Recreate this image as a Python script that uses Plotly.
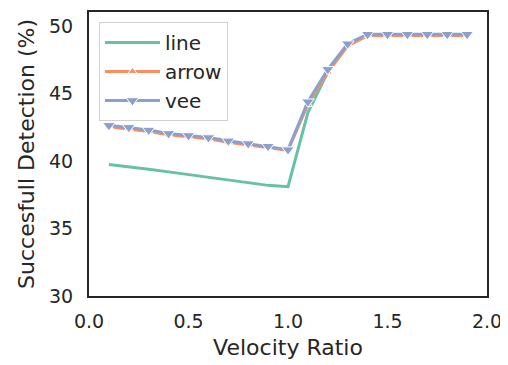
import plotly.graph_objects as go

x = [0.1, 0.2, 0.3, 0.4, 0.5, 0.6, 0.7, 0.8, 0.9, 1.0,
     1.1, 1.2, 1.3, 1.4, 1.5, 1.6, 1.7, 1.8, 1.9]
line_vals = [39.75, 39.6, 39.4, 39.2, 39.0, 38.8, 38.6, 38.4, 38.2, 38.1,
             43.6, 46.6, 48.6, 49.3, 49.3, 49.3, 49.3, 49.3, 49.3]
arrow_vals = [42.55, 42.4, 42.2, 41.95, 41.8, 41.65, 41.4, 41.2, 41.0, 40.8,
              44.2, 46.6, 48.55, 49.3, 49.3, 49.3, 49.3, 49.3, 49.3]
vee_vals = [42.65, 42.5, 42.3, 42.05, 41.9, 41.75, 41.5, 41.3, 41.1, 40.85,
            44.4, 46.8, 48.7, 49.4, 49.4, 49.4, 49.4, 49.4, 49.4]

GREEN = "#66c2a5"
ORANGE = "#fc8d62"
BLUE = "#8da0cb"
FONT = "DejaVu Sans"
TXT = "#262626"

fig = go.Figure()
fig.add_trace(go.Scatter(x=x, y=line_vals, name="line", mode="lines",
                         line=dict(color=GREEN, width=3)))
fig.add_trace(go.Scatter(x=x, y=arrow_vals, name="arrow", mode="lines+markers",
                         line=dict(color=ORANGE, width=3),
                         marker=dict(symbol="triangle-up", size=8, color=ORANGE,
                                     line=dict(color="white", width=1))))
fig.add_trace(go.Scatter(x=x, y=vee_vals, name="vee", mode="lines+markers",
                         line=dict(color=BLUE, width=3),
                         marker=dict(symbol="triangle-down", size=11, color=BLUE,
                                     line=dict(color="white", width=1))))

fig.update_layout(
    width=500, height=357,
    margin=dict(l=81, r=21, t=2, b=69),
    paper_bgcolor="white", plot_bgcolor="white",
    font=dict(family=FONT, size=19, color=TXT),
    showlegend=True,
    legend=dict(x=0.025, y=0.965, xanchor="left", yanchor="top",
                bgcolor="rgba(255,255,255,0.8)", bordercolor="#d0d0d0", borderwidth=1,
                itemwidth=55, tracegroupgap=0,
                font=dict(family=FONT, size=20, color=TXT)),
    xaxis=dict(range=[0, 2], tickvals=[0, 0.5, 1.0, 1.5, 2.0],
               ticktext=["0.0", "0.5", "1.0", "1.5", "2.0"],
               showgrid=False, zeroline=False, showline=True, mirror=True,
               linecolor=TXT, linewidth=2, ticks="outside", ticklen=7,
               tickcolor="rgba(0,0,0,0)",
               tickfont=dict(family=FONT, size=19, color=TXT),
               title=dict(text="Velocity Ratio", font=dict(family=FONT, size=22, color=TXT), standoff=9)),
    yaxis=dict(range=[30, 51.05], tickvals=[30, 35, 40, 45, 50],
               showgrid=False, zeroline=False, showline=True, mirror=True,
               linecolor=TXT, linewidth=2, ticks="outside", ticklen=10,
               tickcolor="rgba(0,0,0,0)",
               tickfont=dict(family=FONT, size=19, color=TXT),
               title=dict(text="Succesfull Detection (%)", font=dict(family=FONT, size=22, color=TXT), standoff=8)),
)

fig.write_html("out.html")
